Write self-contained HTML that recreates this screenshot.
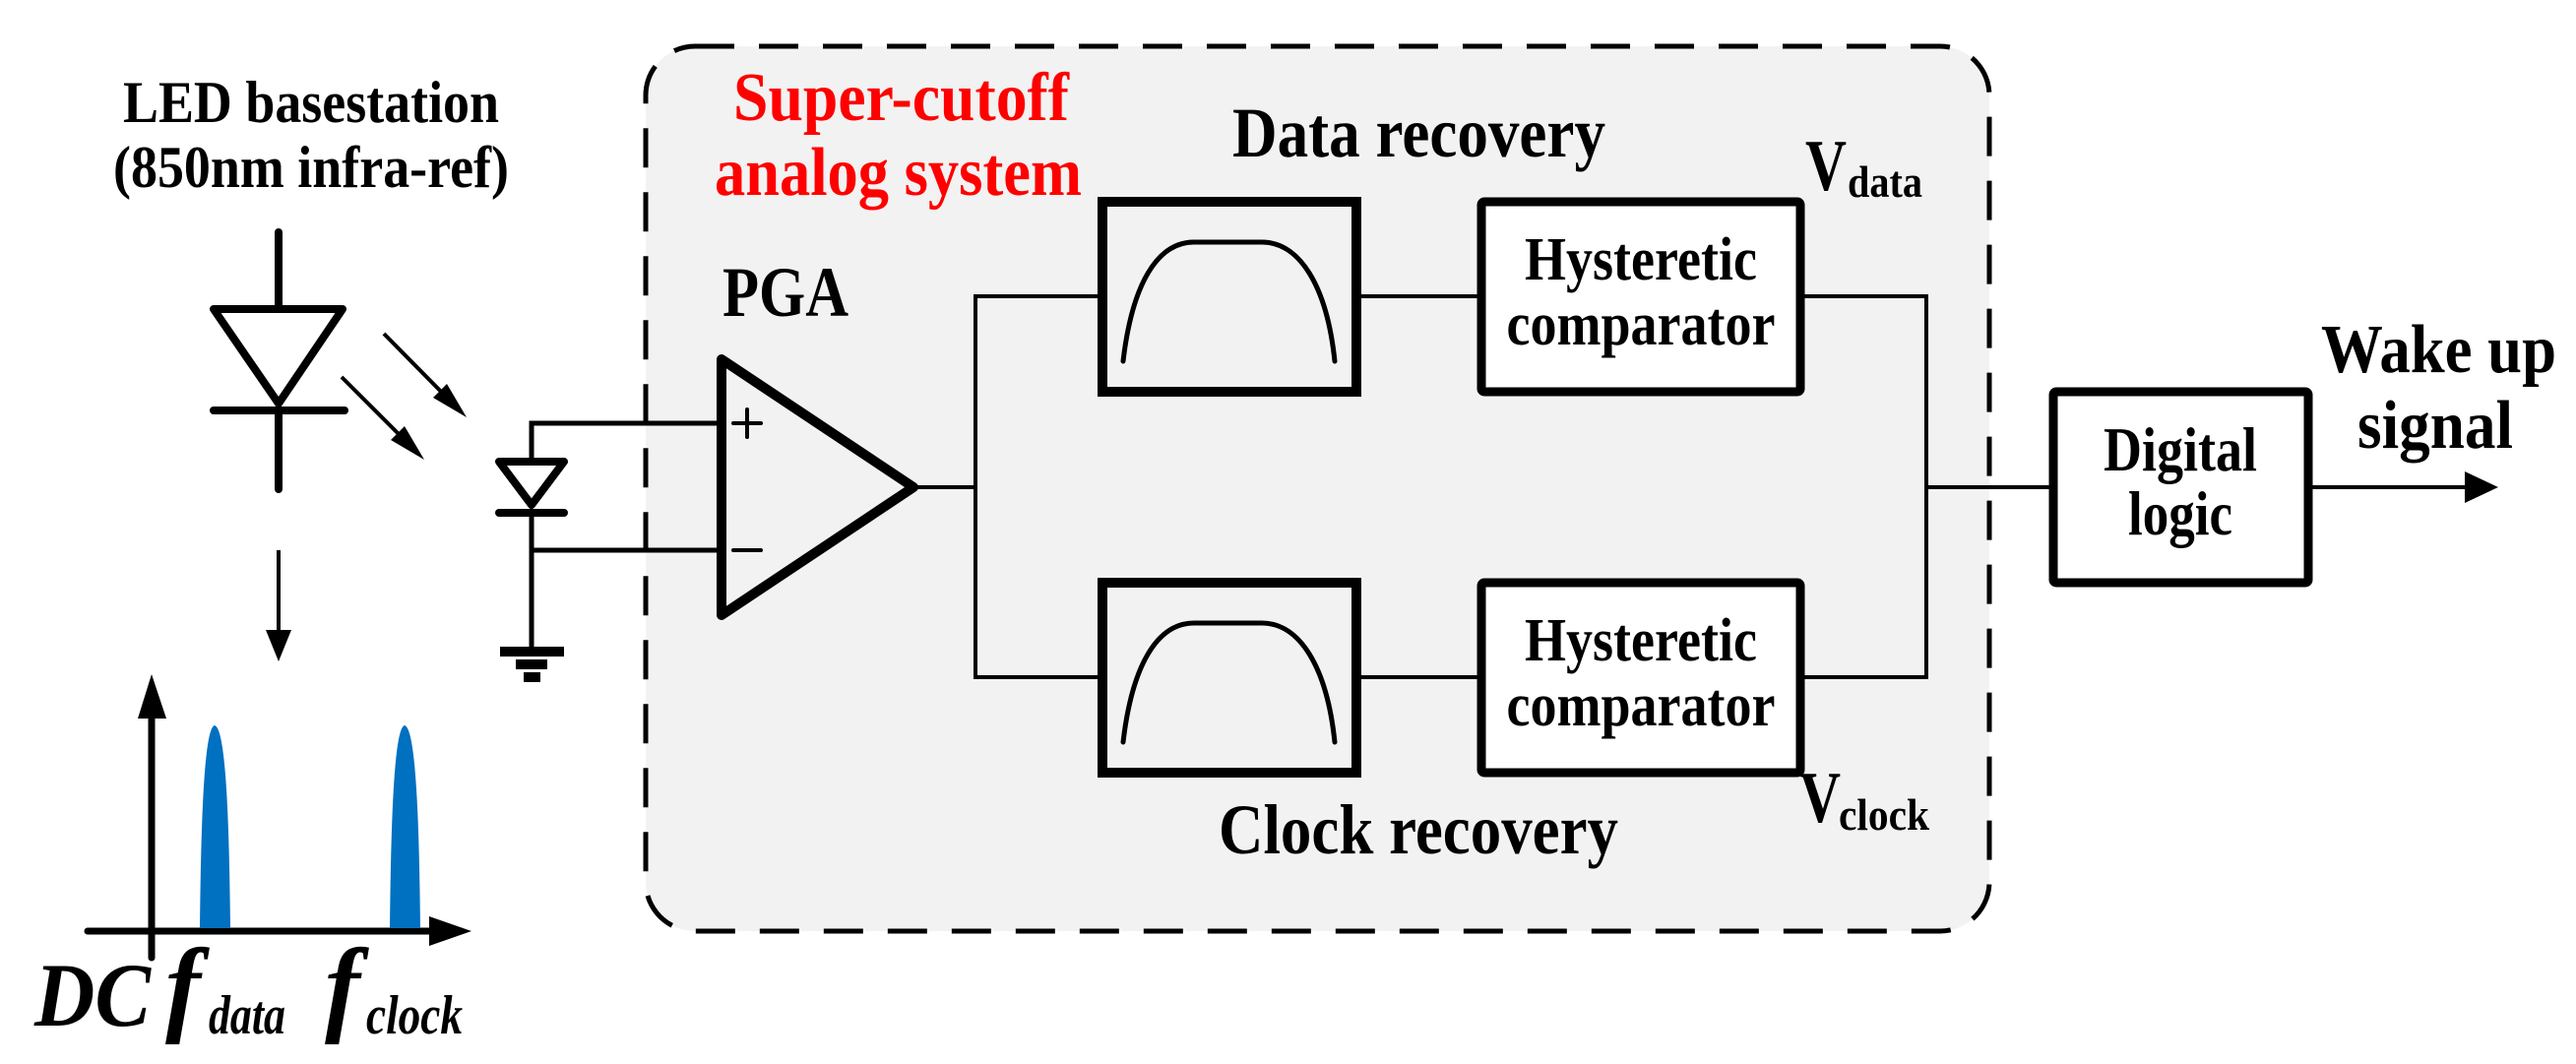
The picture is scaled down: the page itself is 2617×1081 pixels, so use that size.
<!DOCTYPE html>
<html><head><meta charset="utf-8"><style>html,body{margin:0;padding:0;background:#fff}svg{display:block}text{font-family:"Liberation Serif",serif;font-weight:bold}</style></head>
<body>
<svg width="2617" height="1081" viewBox="0 0 2617 1081" xmlns="http://www.w3.org/2000/svg">
<!-- dashed region -->
<rect x="656" y="47" width="1365" height="899" rx="50" fill="#f2f2f2" stroke="#000" stroke-width="5" stroke-dasharray="40,25"/>

<!-- LED text -->
<text x="316" y="124" font-size="60" text-anchor="middle" textLength="382" lengthAdjust="spacingAndGlyphs">LED basestation</text>
<text x="316" y="190" font-size="60" text-anchor="middle" textLength="402" lengthAdjust="spacingAndGlyphs">(850nm infra-ref)</text>

<!-- LED diode -->
<g stroke="#000" stroke-width="8" fill="none" stroke-linecap="round" stroke-linejoin="round">
<line x1="283" y1="236" x2="283" y2="314"/>
<polygon points="217,314 348,314 283,410"/>
<line x1="217" y1="417" x2="350" y2="417"/>
<line x1="283" y1="417" x2="283" y2="497"/>
</g>
<g stroke="#000" stroke-width="4">
<line x1="390" y1="339" x2="462" y2="412"/>
<line x1="347" y1="383" x2="419" y2="455"/>
</g>
<polygon points="474,424 440,404 454,390" fill="#000"/>
<polygon points="431,467 397,447 411,433" fill="#000"/>
<line x1="283" y1="559" x2="283" y2="645" stroke="#000" stroke-width="4"/>
<polygon points="270,640 296,640 283,672" fill="#000"/>

<!-- spectrum -->
<line x1="154" y1="973" x2="154" y2="725" stroke="#000" stroke-width="7" stroke-linecap="round"/>
<polygon points="140,730 169,730 154,685" fill="#000"/>
<line x1="89" y1="946" x2="440" y2="946" stroke="#000" stroke-width="7" stroke-linecap="round"/>
<polygon points="436,931 479,946 436,961" fill="#000"/>
<path d="M203,943 C204,860 206,740 218,737 C231,740 233,860 234,943Z" fill="#0070c0"/>
<path d="M396,943 C397,860 399,740 411,737 C424,740 426,860 427,943Z" fill="#0070c0"/>
<text x="35" y="1042" font-size="92" font-style="italic" textLength="118" lengthAdjust="spacingAndGlyphs">DC</text>
<text x="168" y="1038" font-size="108" font-style="italic">f</text>
<text x="212" y="1050" font-size="56" font-style="italic" textLength="78" lengthAdjust="spacingAndGlyphs">data</text>
<text x="330" y="1038" font-size="108" font-style="italic">f</text>
<text x="372" y="1050" font-size="56" font-style="italic" textLength="98" lengthAdjust="spacingAndGlyphs">clock</text>

<!-- photodiode -->
<g stroke="#000" stroke-width="5" fill="none">
<polyline points="733,430 540,430 540,469"/>
<polyline points="733,559 540,559 540,662"/>
<line x1="540" y1="521" x2="540" y2="559"/>
</g>
<g stroke="#000" stroke-width="8" fill="none" stroke-linecap="round" stroke-linejoin="round">
<polygon points="507,469 573,469 540,513"/>
<line x1="507" y1="521" x2="573" y2="521"/>
</g>
<rect x="508" y="657" width="65" height="10" fill="#000"/>
<rect x="524" y="670" width="32" height="10" fill="#000"/>
<rect x="532" y="683" width="17" height="10" fill="#000"/>

<!-- op amp -->
<polygon points="733,365 733,625 928,495" fill="none" stroke="#000" stroke-width="10" stroke-linejoin="round"/>
<g stroke="#000" stroke-width="4" stroke-linecap="round">
<line x1="745" y1="430" x2="773" y2="430"/><line x1="759" y1="416" x2="759" y2="444"/>
<line x1="745" y1="559" x2="773" y2="559"/>
</g>
<text x="734" y="321" font-size="72" textLength="128" lengthAdjust="spacingAndGlyphs">PGA</text>

<text x="745" y="122" font-size="70" fill="#ff0000" textLength="341" lengthAdjust="spacingAndGlyphs">Super-cutoff</text>
<text x="726" y="198" font-size="70" fill="#ff0000" textLength="373" lengthAdjust="spacingAndGlyphs">analog system</text>

<!-- wiring -->
<g stroke="#000" stroke-width="4" fill="none">
<line x1="928" y1="495" x2="991" y2="495"/>
<polyline points="1120,301 991,301 991,688 1120,688"/>
<line x1="1378" y1="301" x2="1504" y2="301"/>
<line x1="1378" y1="688" x2="1504" y2="688"/>
<polyline points="1829,301 1957,301 1957,688 1829,688"/>
<line x1="1957" y1="495" x2="2085" y2="495"/>
<line x1="2346" y1="495" x2="2510" y2="495"/>
</g>
<polygon points="2504,479 2538,495 2504,511" fill="#000"/>

<!-- filters -->
<g stroke="#000" fill="none">
<rect x="1120" y="205" width="258" height="193" stroke-width="10"/>
<rect x="1120" y="592" width="258" height="193" stroke-width="10"/>
<path d="M1141,367 C1150,290 1175,246 1213,246 L1282,246 C1320,246 1348,290 1356,367" stroke-width="5" stroke-linecap="round"/>
<path d="M1141,754 C1150,677 1175,633 1213,633 L1282,633 C1320,633 1348,677 1356,754" stroke-width="5" stroke-linecap="round"/>
</g>

<!-- comparators -->
<rect x="1505" y="205" width="324" height="193" fill="#fff" stroke="#000" stroke-width="9" rx="3"/>
<rect x="1505" y="592" width="324" height="193" fill="#fff" stroke="#000" stroke-width="9" rx="3"/>
<text x="1667" y="284" font-size="62" text-anchor="middle" textLength="236" lengthAdjust="spacingAndGlyphs">Hysteretic</text>
<text x="1667" y="350" font-size="62" text-anchor="middle" textLength="273" lengthAdjust="spacingAndGlyphs">comparator</text>
<text x="1667" y="671" font-size="62" text-anchor="middle" textLength="236" lengthAdjust="spacingAndGlyphs">Hysteretic</text>
<text x="1667" y="737" font-size="62" text-anchor="middle" textLength="273" lengthAdjust="spacingAndGlyphs">comparator</text>

<text x="1252" y="159" font-size="72" textLength="379" lengthAdjust="spacingAndGlyphs">Data recovery</text>
<text x="1238" y="867" font-size="72" textLength="406" lengthAdjust="spacingAndGlyphs">Clock recovery</text>

<text x="1834" y="193" font-size="74" textLength="42" lengthAdjust="spacingAndGlyphs">V</text>
<text x="1877" y="200" font-size="46" textLength="76" lengthAdjust="spacingAndGlyphs">data</text>
<text x="1828" y="835" font-size="74" textLength="42" lengthAdjust="spacingAndGlyphs">V</text>
<text x="1868" y="843" font-size="46" textLength="92" lengthAdjust="spacingAndGlyphs">clock</text>

<!-- digital logic -->
<rect x="2086" y="398" width="259" height="194" fill="#fff" stroke="#000" stroke-width="9" rx="3"/>
<text x="2215" y="478" font-size="64" text-anchor="middle" textLength="156" lengthAdjust="spacingAndGlyphs">Digital</text>
<text x="2215" y="543" font-size="64" text-anchor="middle" textLength="106" lengthAdjust="spacingAndGlyphs">logic</text>

<text x="2358" y="378" font-size="70" textLength="239" lengthAdjust="spacingAndGlyphs">Wake up</text>
<text x="2395" y="455" font-size="70" textLength="158" lengthAdjust="spacingAndGlyphs">signal</text>
</svg>
</body></html>
